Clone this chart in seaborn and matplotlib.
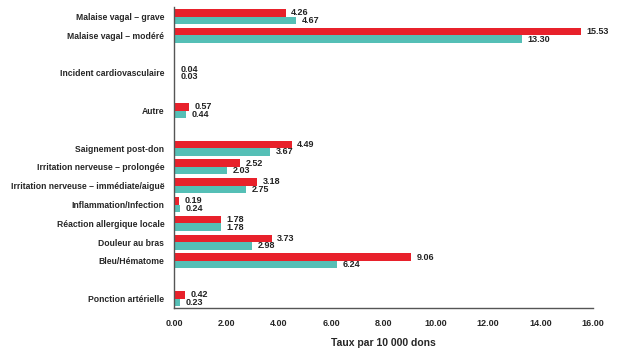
import matplotlib
matplotlib.use("Agg")
import matplotlib.pyplot as plt
import pandas as pd
import seaborn as sns
from matplotlib.ticker import FormatStrFormatter

# Rows from top to bottom; blank labels are the gaps between groups
rows = [
    "Malaise vagal – grave",
    "Malaise vagal – modéré",
    " ",
    "Incident cardiovasculaire",
    "  ",
    "Autre",
    "   ",
    "Saignement post-don",
    "Irritation nerveuse – prolongée",
    "Irritation nerveuse – immédiate/aiguë",
    "Inflammation/Infection",
    "Réaction allergique locale",
    "Douleur au bras",
    "Bleu/Hématome",
    "    ",
    "Ponction artérielle",
]

categories = [
    "Malaise vagal – grave",
    "Malaise vagal – modéré",
    "Incident cardiovasculaire",
    "Autre",
    "Saignement post-don",
    "Irritation nerveuse – prolongée",
    "Irritation nerveuse – immédiate/aiguë",
    "Inflammation/Infection",
    "Réaction allergique locale",
    "Douleur au bras",
    "Bleu/Hématome",
    "Ponction artérielle",
]
series_red = [4.26, 15.53, 0.04, 0.57, 4.49, 2.52, 3.18, 0.19, 1.78, 3.73, 9.06, 0.42]
series_teal = [4.67, 13.30, 0.03, 0.44, 3.67, 2.03, 2.75, 0.24, 1.78, 2.98, 6.24, 0.23]
series_names = ["Série 1", "Série 2"]
colors = ["#E8212B", "#55BFB6"]

df = pd.concat([
    pd.DataFrame({"cat": categories, "taux": series_red, "serie": series_names[0]}),
    pd.DataFrame({"cat": categories, "taux": series_teal, "serie": series_names[1]}),
])

sns.set_style("white")
plt.rcParams["font.family"] = ["Liberation Sans", "DejaVu Sans"]
plt.rcParams["font.weight"] = "bold"

fig = plt.figure(figsize=(6.24, 3.56), dpi=100)
ax = fig.add_axes([0.279, 0.135, 0.671, 0.845])

sns.barplot(
    data=df, y="cat", x="taux", hue="serie", order=rows,
    hue_order=series_names, palette=colors, orient="h",
    width=0.8, saturation=1, errorbar=None, legend=False,
    linewidth=0, ax=ax,
)

for cont in ax.containers:
    ax.bar_label(cont, fmt="%.2f", padding=4, fontsize=6.5, fontweight="bold", color="#222222")

ax.set_xlim(0, 16)
ax.set_xticks(range(0, 17, 2))
ax.xaxis.set_major_formatter(FormatStrFormatter("%.2f"))
ax.tick_params(axis="x", length=0, labelsize=6.5, pad=8)
ax.tick_params(axis="y", length=0, labelsize=6.2, pad=7)
for lab in ax.get_xticklabels() + ax.get_yticklabels():
    lab.set_fontweight("bold")
ax.set_ylabel("")
ax.set_xlabel("Taux par 10 000 dons", fontsize=7.5, fontweight="bold", labelpad=7)

for s in ["top", "right"]:
    ax.spines[s].set_visible(False)
for s in ["left", "bottom"]:
    ax.spines[s].set_color("#555555")
    ax.spines[s].set_linewidth(1)

fig.savefig("out.png", dpi=100)
